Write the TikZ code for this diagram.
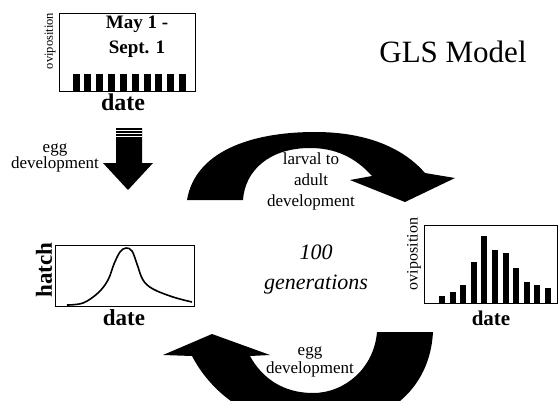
\documentclass[tikz,border=0pt]{standalone}
\usepackage{fontspec}
\setmainfont{Liberation Serif}
\usetikzlibrary{positioning}

\begin{document}
\begin{tikzpicture}[x=1pt,y=-1pt,
	chart/.style={
		draw,
		line width=0.8pt,
		anchor=north west,
		inner sep=0pt,
		},
	axis_lbl/.style={font=\bfseries\fontsize{23}{23}\selectfont},
	side_lbl/.style={rotate=90, font=\fontsize{16}{16}\selectfont},
	step_lbl/.style={align=center, font=\fontsize{17}{16}\selectfont},
	big_arrow/.style={fill=black},
	bar/.style={fill=black},
	]

	\useasboundingbox (0,0) rectangle (560,400);

	% charts
	\node(ovibox)[chart, minimum width=136pt, minimum height=78pt] at (59,13) {};
	\node(hatchbox)[chart, minimum width=139pt, minimum height=61pt] at (55,245) {};
	\node(histbox)[chart, minimum width=133pt, minimum height=78pt] at (424,225) {};

	\foreach \i in {0,...,9}
		\fill[bar] (72.5+11.85*\i,74) rectangle ++(7,17);
	\foreach \i/\t in {0/296,1/292,2/285,3/262,4/236,5/250,6/253,7/268,8/282,9/285,10/288}
		\fill[bar] (439+10.6*\i,\t) rectangle ++(6,303-\t);
	\draw[line width=1.6pt, line join=round] plot[smooth, tension=0.6] coordinates {
		(67,305) (83,303) (98,293) (108,280) (114,264) (120,252) (126,248) (132,251)
		(137,264) (143,280) (153,289) (173,297) (192,302)};

	% axis labels
	\node(season)[align=center, font=\bfseries\fontsize{19}{25}\selectfont] at (137,37) {May 1 -\\Sept. 1};
	\node(ovi1)[side_lbl, font=\fontsize{12.5}{12}\selectfont] at (50,41) {oviposition};
	\node(date1)[axis_lbl, font=\bfseries\fontsize{24}{24}\selectfont] at (123,102) {date};
	\node(hatch)[axis_lbl, rotate=90] at (44,270) {hatch};
	\node(date2)[axis_lbl] at (124,318) {date};
	\node(ovi2)[side_lbl] at (414,254) {oviposition};
	\node(date3)[axis_lbl, font=\bfseries\fontsize{21}{21}\selectfont] at (491,318) {date};

	% arrows
	\fill[big_arrow] (116,128) -- (142,128) -- (142,163) -- (153,163) -- (128,190)
		-- (103,163) -- (116,163) -- cycle;
	\foreach \y in {130.5,133.5,136.5}
		\draw[white, line width=0.7pt] (116,\y) -- (142,\y);
	\fill[big_arrow] (187,200) .. controls (195,152) and (250,132) .. (315,132)
		.. controls (370,132) and (405,150) .. (425,173) -- (455,178) -- (405,202)
		-- (350,180) -- (372,176) .. controls (355,157) and (335,148) .. (310,148)
		.. controls (270,148) and (245,170) .. (243,200) -- cycle;
	\begin{scope}
		\clip (0,0) rectangle (560,400);
		\fill[big_arrow] (433,332) -- (377,332) .. controls (374,368) and (345,393) .. (313,393)
			.. controls (283,393) and (262,378) .. (250,356) -- (270,355) -- (212,334)
			-- (163,355) -- (192,356) .. controls (215,400) and (262,428) .. (315,428)
			.. controls (385,428) and (430,390) .. (433,332) -- cycle;
	\end{scope}

	% texts
	\node(title)[font=\fontsize{31}{31}\selectfont] at (453,52) {GLS Model};
	\node(eggdev1)[step_lbl] at (55,158) {egg\\development};
	\node(larval)[step_lbl, font=\fontsize{17}{21}\selectfont] at (311,181) {larval to\\adult\\development};
	\node(eggdev2)[step_lbl, font=\fontsize{17}{18}\selectfont] at (310,362) {egg\\development};
	\node(gens)[align=center, font=\itshape\fontsize{22}{30}\selectfont] at (316,270) {100\\generations};

\end{tikzpicture}
\end{document}
